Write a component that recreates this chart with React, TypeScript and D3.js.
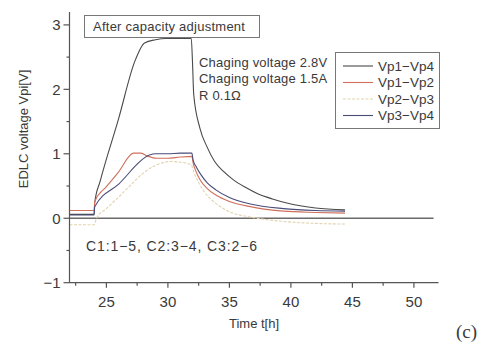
import React from 'react'
import * as d3 from 'd3'

// series: time [h] and voltage [V]
const tVp14 = [22, 24, 24.05, 24.5, 26, 27.3, 28.1, 29, 29.8, 31.9, 32.0, 32.1, 32.6, 33.2, 33.8, 34.5, 35.3, 36.3, 37.3, 38.5, 40, 42, 44.4]
const vVp14 = [0.06, 0.06, 0.24, 0.58, 1.55, 2.43, 2.72, 2.77, 2.79, 2.79, 2.42, 1.92, 1.4, 1.1, 0.88, 0.73, 0.6, 0.48, 0.38, 0.3, 0.22, 0.16, 0.13]

const tVp12 = [22, 24, 24.05, 25, 26, 27.2, 27.8, 28.4, 29.1, 30, 31, 31.95, 32.05, 32.3, 32.6, 33.2, 33.9, 35, 36.7, 39.4, 42, 44.4]
const vVp12 = [0.12, 0.12, 0.26, 0.49, 0.72, 1.01, 1.01, 0.96, 0.93, 0.93, 0.95, 0.96, 0.86, 0.72, 0.6, 0.46, 0.36, 0.26, 0.18, 0.11, 0.09, 0.08]

const tVp23 = [22, 24, 24.2, 25, 26, 27, 28, 29, 30.2, 31, 31.9, 32.1, 32.6, 33.2, 33.9, 35, 36.7, 39.4, 42, 44.4]
const vVp23 = [-0.1, -0.1, 0.0, 0.15, 0.33, 0.52, 0.7, 0.82, 0.88, 0.87, 0.83, 0.72, 0.52, 0.35, 0.23, 0.1, 0.02, -0.05, -0.08, -0.09]

const tVp34 = [22, 24, 24.05, 26, 28.5, 29, 30, 31, 31.95, 32.05, 32.3, 32.6, 33.2, 33.9, 35, 36.7, 39.4, 42, 44.4]
const vVp34 = [0.05, 0.05, 0.18, 0.53, 0.98, 1.0, 1.0, 1.01, 1.01, 0.9, 0.8, 0.7, 0.55, 0.44, 0.32, 0.22, 0.15, 0.12, 0.11]

const seriesNames = ['Vp1−Vp4', 'Vp1−Vp2', 'Vp2−Vp3', 'Vp3−Vp4']
const xTicks = [25, 30, 35, 40, 45, 50]
const yTicks = [-1, 0, 1, 2, 3]
const noteLines = ['Chaging voltage 2.8V', 'Chaging voltage 1.5A', 'R 0.1Ω']

const font = '"Liberation Sans", Arial, sans-serif'
const ink = '#3a3a3a'

export default function App() {
  const x = d3.scaleLinear().domain([22, 52]).range([69.5, 438.5])
  const y = d3.scaleLinear().domain([-1, 3.2]).range([282.7, 12])

  const line = d3.line<[number, number]>()
    .x(d => x(d[0]))
    .y(d => y(d[1]))
    .curve(d3.curveMonotoneX)

  const zip = (t: number[], v: number[]) => t.map((tt, i) => [tt, v[i]] as [number, number])

  const series = [
    { name: seriesNames[0], pts: zip(tVp14, vVp14), color: '#4a4a4a', dash: '' },
    { name: seriesNames[1], pts: zip(tVp12, vVp12), color: '#d0705c', dash: '' },
    { name: seriesNames[2], pts: zip(tVp23, vVp23), color: '#e2d3ae', dash: '3,1.5' },
    { name: seriesNames[3], pts: zip(tVp34, vVp34), color: '#4a4c78', dash: '' },
  ]

  const minorX = d3.range(22.5, 52, 2.5).filter(v => v % 5 !== 0)
  const minorY = d3.range(-0.5, 3.1, 1)

  return (
    <svg width={482} height={343} style={{ position: 'absolute', left: 0, top: 0, background: '#fff' }}>
      <rect width={482} height={343} fill="#fff" />

      {/* zero line */}
      <line x1={x(22)} x2={x(51.6)} y1={y(0)} y2={y(0)} stroke="#6a6a6a" strokeWidth={1.5} />

      {/* series */}
      {series.map(s => (
        <path key={s.name} d={line(s.pts) || ''} fill="none" stroke={s.color}
          strokeWidth={1.1} strokeDasharray={s.dash || undefined} />
      ))}

      {/* axes */}
      <g stroke="#555" strokeWidth={1.2}>
        <line x1={x(22)} x2={x(22)} y1={y(3.2)} y2={y(-1)} />
        <line x1={x(22)} x2={x(52)} y1={y(-1)} y2={y(-1)} />
        {yTicks.map(v => <line key={'yt' + v} x1={x(22) - 6} x2={x(22)} y1={y(v)} y2={y(v)} />)}
        {minorY.map(v => <line key={'ym' + v} x1={x(22) - 3} x2={x(22)} y1={y(v)} y2={y(v)} />)}
        {xTicks.map(v => <line key={'xt' + v} x1={x(v)} x2={x(v)} y1={y(-1)} y2={y(-1) + 5} />)}
        {minorX.map(v => <line key={'xm' + v} x1={x(v)} x2={x(v)} y1={y(-1)} y2={y(-1) + 3} />)}
      </g>

      <g fontFamily={font} fontSize={15} fill={ink}>
        {yTicks.map(v => (
          <text key={'yl' + v} x={x(22) - 9} y={y(v)} dy="0.36em" textAnchor="end">
            {v < 0 ? '−' + Math.abs(v) : v}
          </text>
        ))}
        {xTicks.map(v => (
          <text key={'xl' + v} x={x(v)} y={307} textAnchor="middle">{v}</text>
        ))}
      </g>

      {/* axis titles */}
      <text x={254} y={328} textAnchor="middle" fontFamily={font} fontSize={13} fill={ink}>Time t[h]</text>
      <text transform="translate(28,129) rotate(-90)" textAnchor="middle" fontFamily={font} fontSize={13} fill={ink}>
        EDLC voltage Vpi[V]
      </text>

      {/* title box */}
      <rect x={84.5} y={15.5} width={175} height={22} fill="#fff" stroke="#777" strokeWidth={1} />
      <text x={93} y={31} fontFamily={font} fontSize={13} letterSpacing={0.25} fill={ink}>After capacity adjustment</text>

      {/* notes */}
      <g fontFamily={font} fontSize={13} fill={ink}>
        {noteLines.map((t, i) => (
          <text key={t} x={199} y={66.5 + i * 16.7} letterSpacing={0.2}>{t}</text>
        ))}
        <text x={86} y={251} fontSize={14} letterSpacing={0.9}>C1:1−5, C2:3−4, C3:2−6</text>
      </g>

      {/* legend */}
      <rect x={335.5} y={52.5} width={104} height={76} fill="#fff" stroke="#777" strokeWidth={1} />
      {series.map((s, i) => {
        const ly = 66 + i * 16.5
        return (
          <g key={'lg' + s.name}>
            <line x1={343} x2={373} y1={ly} y2={ly} stroke={s.color} strokeWidth={1.1}
              strokeDasharray={s.dash || undefined} />
            <text x={378} y={ly} dy="0.36em" fontFamily={font} fontSize={13.5} fill={ink}>{s.name}</text>
          </g>
        )
      })}

      <text x={456} y={338} fontFamily='"Liberation Serif", serif' fontSize={19} fill={ink}>(c)</text>
    </svg>
  )
}
